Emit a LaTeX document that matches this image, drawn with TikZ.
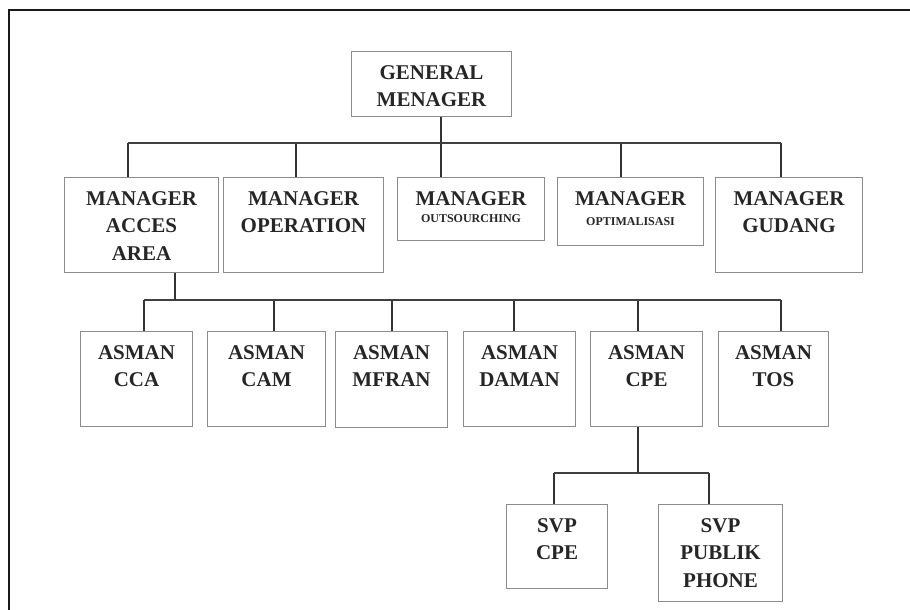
\documentclass[tikz,border=0pt]{standalone}
\usepackage{fontspec}
\setmainfont{Liberation Serif}
\usetikzlibrary{positioning}

\begin{document}
\begin{tikzpicture}[
  x=1pt, y=-1pt,
  box/.style={draw=black!45, line width=1.1pt, anchor=north west, inner sep=0pt},
  lbl/.style={anchor=north, yshift=-14pt, align=center, inner sep=0pt, text=black!85,
              font=\fontsize{21}{27.5}\selectfont\bfseries},
  sml/.style={anchor=north, inner sep=0pt, text=black!85,
              font=\fontsize{12}{14}\selectfont\bfseries},
  conn/.style={line width=1.6pt, draw=black!80},
  bus/.style={line width=2.6pt, draw=black!75},
  frame/.style={line width=1.8pt, draw=black!90}
]
\useasboundingbox (0,0) rectangle (910,610);
\draw[frame] (910,10) -- (9,10) -- (9,610);

% top
\node[box, minimum width=160pt, minimum height=65pt,
      label={[lbl]north:{GENERAL\\MENAGER}}] (gm) at (351,51) {};

% managers
\node[box, minimum width=154pt, minimum height=95pt,
      label={[lbl]north:{MANAGER\\ACCES\\AREA}}] (acces) at (64,177) {};
\node[box, minimum width=160pt, minimum height=95pt,
      label={[lbl]north:{MANAGER\\OPERATION}}] (oper) at (223,177) {};
\node[box, minimum width=147pt, minimum height=63pt,
      label={[lbl]north:MANAGER},
      label={[sml, yshift=-37pt]north:OUTSOURCHING}] (outs) at (397,177) {};
\node[box, minimum width=146pt, minimum height=68pt,
      label={[lbl]north:MANAGER},
      label={[sml, yshift=-40pt]north:OPTIMALISASI}] (opti) at (557,177) {};
\node[box, minimum width=147pt, minimum height=95pt,
      label={[lbl]north:{MANAGER\\GUDANG}}] (gud) at (715,177) {};

% asman
\node[box, minimum width=112pt, minimum height=95pt,
      label={[lbl]north:{ASMAN\\CCA}}] (cca) at (80,331) {};
\node[box, minimum width=118pt, minimum height=95pt,
      label={[lbl]north:{ASMAN\\CAM}}] (cam) at (207,331) {};
\node[box, minimum width=112pt, minimum height=96pt,
      label={[lbl]north:{ASMAN\\MFRAN}}] (mfran) at (335,331) {};
\node[box, minimum width=112pt, minimum height=95pt,
      label={[lbl]north:{ASMAN\\DAMAN}}] (daman) at (463,331) {};
\node[box, minimum width=112pt, minimum height=95pt,
      label={[lbl]north:{ASMAN\\CPE}}] (cpe) at (590,331) {};
\node[box, minimum width=110pt, minimum height=95pt,
      label={[lbl]north:{ASMAN\\TOS}}] (tos) at (718,331) {};

% svp
\node[box, minimum width=101pt, minimum height=84pt,
      label={[lbl]north:{SVP\\CPE}}] (svpcpe) at (506,504) {};
\node[box, minimum width=124pt, minimum height=97pt,
      label={[lbl]north:{SVP\\PUBLIK\\PHONE}}] (svppp) at (658,504) {};

% connectors
\foreach \x/\n in {128/acces, 296/oper, 441/outs, 621/opti, 781/gud} {
  \coordinate (d-\n) at (\x,143);
  \draw[conn] (d-\n) -- (d-\n |- \n.north);
}
\draw[bus] (d-acces) -- (d-gud);
\draw[conn] (gm.south -| d-outs) -- (d-outs);

\foreach \x/\n in {144/cca, 274/cam, 392/mfran, 514/daman, 638/cpe, 781/tos} {
  \coordinate (d-\n) at (\x,300);
  \draw[conn] (d-\n) -- (d-\n |- \n.north);
}
\coordinate (u-acces) at (175,300);
\draw[bus] (d-cca) -- (d-tos);
\draw[conn] (acces.south -| u-acces) -- (u-acces);

\foreach \x/\n in {554/svpcpe, 709/svppp} {
  \coordinate (d-\n) at (\x,473);
  \draw[conn] (d-\n) -- (d-\n |- \n.north);
}
\draw[bus] (d-svpcpe) -- (d-svppp);
\draw[conn] (cpe.south -| d-cpe) -- (d-cpe |- d-svpcpe);
\end{tikzpicture}
\end{document}
